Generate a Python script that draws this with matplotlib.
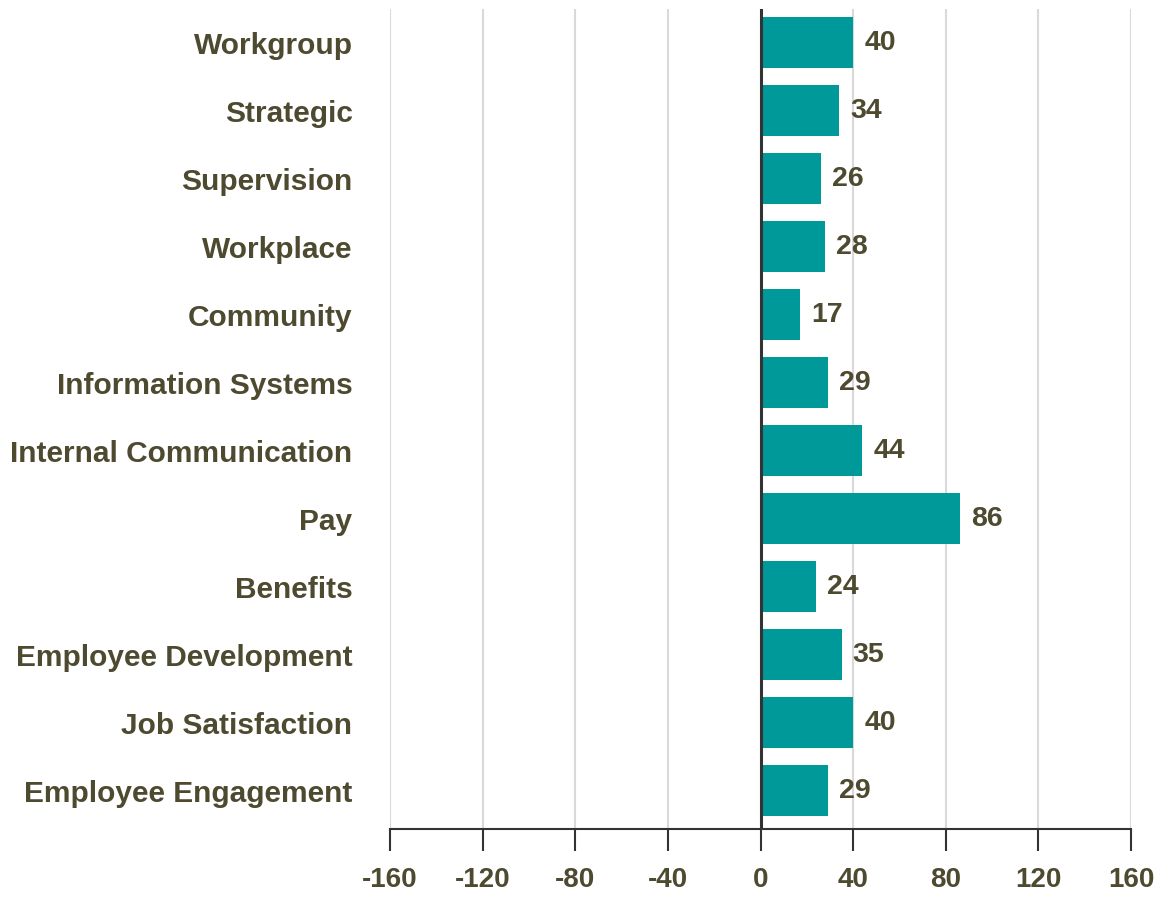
import matplotlib.pyplot as plt

categories = ['Employee Engagement', 'Job Satisfaction', 'Employee Development', 'Benefits',
              'Pay', 'Internal Communication', 'Information Systems', 'Community',
              'Workplace', 'Supervision', 'Strategic', 'Workgroup']
values = [29, 40, 35, 24, 86, 44, 29, 17, 28, 26, 34, 40]
xticks = [-160, -120, -80, -40, 0, 40, 80, 120, 160]

teal = '#009999'
txt = '#4d4a30'

fig = plt.figure(figsize=(11.58, 8.97), dpi=100)
ax = fig.add_axes([390 / 1158, 68 / 897, 741 / 1158, 820 / 897])

ypos = list(range(len(categories)))
ax.barh(ypos, values, height=0.75, color=teal, zorder=3)
ax.axvline(0, color='#333333', lw=2.2, zorder=4)

for y, v in zip(ypos, values):
    ax.annotate(str(v), (v, y), xytext=(8, 0), textcoords='offset points',
                ha='left', va='center', fontsize=20.5, fontweight='bold',
                color=txt, family='Liberation Sans')

ax.set_xlim(-160, 160)
ax.set_ylim(-0.56, 11.5)
ax.set_xticks(xticks)
ax.set_xticklabels([str(t) for t in xticks], fontsize=20, fontweight='bold',
                   color=txt, family='Liberation Sans')
ax.set_yticks(ypos)
ax.set_yticklabels(categories, fontsize=21.5, fontweight='bold', color=txt,
                   family='Liberation Sans')
ax.tick_params(axis='y', length=0, pad=27)
ax.tick_params(axis='x', length=16, width=1.5, color='#333333', direction='out', pad=11)
ax.grid(axis='x', color='#d9d9d9', lw=1.5, zorder=0)
for s in ['top', 'right', 'left']:
    ax.spines[s].set_visible(False)
ax.spines['bottom'].set_color('#333333')
ax.spines['bottom'].set_linewidth(1.5)

fig.savefig('out.png', dpi=100)
